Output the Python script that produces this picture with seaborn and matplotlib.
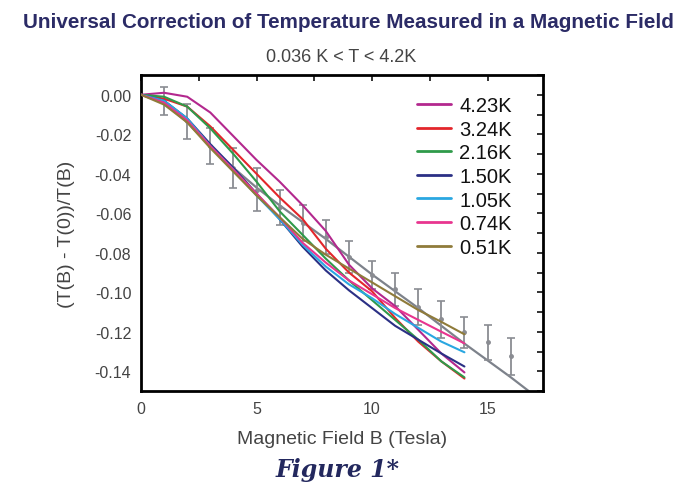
import numpy as np
import pandas as pd
import matplotlib
matplotlib.use("Agg")
import matplotlib.pyplot as plt
import seaborn as sns

# Magnetic field grid used for the measured curves (Tesla)
field_7 = [0, 1, 2, 3, 4, 5, 6, 7, 8, 9, 10, 11, 12, 13, 14]

# (T(B) - T(0))/T(B) for each bath temperature
curve_423 = [0.0, 0.001, -0.001, -0.009, -0.021, -0.033, -0.044, -0.056, -0.069, -0.086, -0.098, -0.107, -0.119, -0.131, -0.1406]
curve_324 = [0.0, -0.002, -0.006, -0.016, -0.028, -0.040, -0.052, -0.063, -0.078, -0.090, -0.0995, -0.113, -0.125, -0.135, -0.1437]
curve_216 = [0.0, -0.001, -0.006, -0.017, -0.030, -0.044, -0.059, -0.071, -0.083, -0.094, -0.104, -0.114, -0.124, -0.135, -0.1431]
curve_150 = [0.0, -0.003, -0.012, -0.025, -0.037, -0.050, -0.063, -0.077, -0.089, -0.099, -0.108, -0.117, -0.124, -0.131, -0.1376]
curve_105 = [0.0, -0.003, -0.012, -0.026, -0.038, -0.051, -0.063, -0.076, -0.087, -0.096, -0.103, -0.111, -0.118, -0.125, -0.1304]
curve_074 = [0.0, -0.004, -0.013, -0.026, -0.038, -0.050, -0.062, -0.075, -0.085, -0.094, -0.101, -0.108, -0.114, -0.120, -0.1259]
curve_051 = [0.0, -0.005, -0.014, -0.027, -0.039, -0.051, -0.062, -0.073, -0.081, -0.088, -0.095, -0.102, -0.109, -0.115, -0.1213]

temps = ["4.23K", "3.24K", "2.16K", "1.50K", "1.05K", "0.74K", "0.51K"]
colors = ["#b3288e", "#e3262b", "#2f9a4a", "#2b3085", "#2aa7e1", "#e8358f", "#8f7b3a"]

# Universal correction: averaged points with error bars and the fitted line
pts_B = [1, 2, 3, 4, 5, 6, 7, 8, 9, 10, 11, 12, 13, 14, 15, 16]
pts_val = [-0.003, -0.0135, -0.026, -0.037, -0.048, -0.057, -0.065, -0.072, -0.082, -0.0914, -0.0985, -0.1076, -0.1137, -0.1203, -0.1254, -0.1325]
pts_err = [0.007, 0.009, 0.009, 0.010, 0.011, 0.009, 0.009, 0.0085, 0.008, 0.007, 0.0085, 0.009, 0.0095, 0.008, 0.009, 0.0095]
fit_B = [0, 1, 2, 3, 4, 5, 6, 8, 10, 12, 14, 16, 17]
fit_val = [0.0, -0.004, -0.014, -0.026, -0.037, -0.047, -0.056, -0.073, -0.091, -0.108, -0.126, -0.143, -0.152]

series = {t: v for t, v in zip(temps, [curve_423, curve_324, curve_216, curve_150,
                                        curve_105, curve_074, curve_051])}
df = pd.DataFrame([{"B": b, "dT": y, "T": t}
                   for t, vals in series.items() for b, y in zip(field_7, vals)])

sns.set_theme(style="white")
plt.rcParams["font.family"] = ["Liberation Sans", "DejaVu Sans"]

fig = plt.figure(figsize=(6.8, 4.85), dpi=100)
ax = fig.add_axes([141 / 680, 1 - 392 / 485, (543 - 141) / 680, (392 - 76) / 485])

# gray fitted line with averaged error-bar points
ax.plot(fit_B, fit_val, color="#7d828b", lw=1.6, zorder=1)
ax.errorbar(pts_B, pts_val, yerr=pts_err, fmt="o", ms=2.5, color="#8a8c92",
            ecolor="#8a8c92", elinewidth=1.3, capsize=3, capthick=1.2, zorder=1)

sns.lineplot(data=df, x="B", y="dT", hue="T", hue_order=temps,
             palette=colors, lw=1.5, ax=ax, zorder=3)

ax.set_xlim(0, 17.4)
ax.set_ylim(-0.15, 0.01)
xmaj = [0, 5, 10, 15]
xmin = [2.5, 7.5, 12.5]
ymaj = [0.0, -0.02, -0.04, -0.06, -0.08, -0.10, -0.12, -0.14]
ymin = list(np.arange(-0.15, 0.011, 0.01))
ax.set_xticks(xmaj)
ax.set_xticks(xmin, minor=True)
ax.set_yticks(ymaj)
ax.set_yticks(ymin, minor=True)
ax.set_yticklabels(["0.00", "-0.02", "-0.04", "-0.06", "-0.08", "-0.10", "-0.12", "-0.14"])
ax.tick_params(axis="both", which="major", direction="inout", length=8, width=1.2,
               labelsize=11.5, labelcolor="#444444", color="#111111", pad=3)
ax.tick_params(axis="both", which="minor", direction="in", length=4, width=1.2,
               color="#111111")

# inward ticks on the top and right edges
top = ax.secondary_xaxis("top")
top.set_xticks(xmaj + xmin)
top.tick_params(direction="in", length=4, width=1.2, color="#111111", labeltop=False)
right = ax.secondary_yaxis("right")
right.set_yticks(ymin)
right.tick_params(direction="in", length=4, width=1.2, color="#111111", labelright=False)
for sec in (top, right):
    for sp in sec.spines.values():
        sp.set_visible(False)

for sp in ax.spines.values():
    sp.set_color("#000000")
    sp.set_linewidth(2)

ax.set_xlabel("Magnetic Field B (Tesla)", fontsize=14, color="#444444", labelpad=10)
ax.set_ylabel("(T(B) - T(0))/T(B)", fontsize=14, color="#444444", labelpad=14)

leg = ax.legend(loc="upper left", bbox_to_anchor=((417 - 141) / 402, (392 - 97) / 316),
                frameon=False, fontsize=14.5, handlelength=1.7, handletextpad=0.4,
                labelspacing=0.23, borderaxespad=0, borderpad=0)
for line in leg.get_lines():
    line.set_linewidth(2)
for txt in leg.get_texts():
    txt.set_color("#111111")

fig.text(0.512, 0.953, "Universal Correction of Temperature Measured in a Magnetic Field",
         ha="center", va="center", fontsize=14.9, fontweight="bold", color="#2b2b66")
fig.text(0.502, 0.882, "0.036 K < T < 4.2K", ha="center", va="center",
         fontsize=13, color="#444444")
fig.text(0.497, 0.016, "Figure 1*", ha="center", va="baseline", fontsize=17,
         fontweight="bold", fontstyle="italic", family="DejaVu Serif", color="#23285e")

fig.savefig("out.png", dpi=100, facecolor="white")
